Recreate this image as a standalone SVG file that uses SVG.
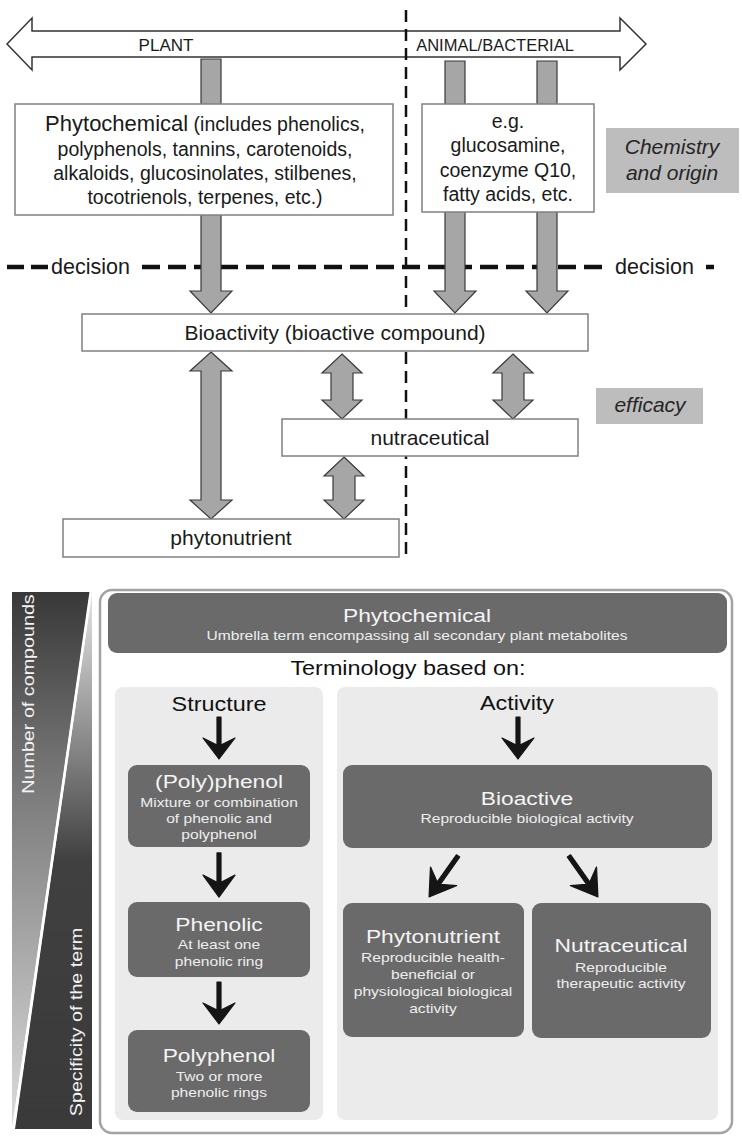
<svg xmlns="http://www.w3.org/2000/svg" width="742" height="1141" viewBox="0 0 742 1141">
<defs>
<style>
text{font-family:"Liberation Sans",Arial,sans-serif;fill:#1a1a1a}
.box{fill:#fff;stroke:#808080;stroke-width:1.5}
.tag{fill:#bdbdbd}
.tagt{font-style:italic;font-size:21px;fill:#262626;text-anchor:middle}
.ga{fill:#a6a6a6;stroke:#3a3a3a;stroke-width:1.2;stroke-linejoin:miter}
.lbl{font-size:21px;text-anchor:middle}
.body{font-size:19.5px;text-anchor:middle}
.dk{fill:#6a6a6a}
.pan{fill:#ebebeb}
.tt{font-size:19px;fill:#f4f4f4;text-anchor:middle}
.st{font-size:13px;fill:#eeeeee;text-anchor:middle}
.hd{font-size:19.5px;fill:#111;text-anchor:middle}
.blk{fill:#151515;stroke:#151515;stroke-width:1.2;stroke-linejoin:round}
.rot{font-size:17px;fill:#f2f2f2;text-anchor:middle}
</style>
<linearGradient id="gUp" gradientUnits="userSpaceOnUse" x1="0" y1="592" x2="0" y2="1128">
<stop offset="0" stop-color="#383838"/>
<stop offset="0.3" stop-color="#707070"/>
<stop offset="1" stop-color="#dcdcdc"/>
</linearGradient>
<linearGradient id="gDn" gradientUnits="userSpaceOnUse" x1="0" y1="592" x2="0" y2="1128">
<stop offset="0" stop-color="#e6e6e6"/>
<stop offset="0.5" stop-color="#404040"/>
<stop offset="1" stop-color="#3a3a3a"/>
</linearGradient>
<path id="bk" d="M-2,0 L2,0 L2,28 L16,21 L0,42 L-16,21 L-2,28 Z"/>
</defs>

<!-- top origin arrow -->
<g id="origin-axis">
<path d="M7,44 L32,18 L32,31 L620,31 L620,18 L646,44 L620,70 L620,57 L32,57 L32,70 Z" fill="#fff" stroke="#333" stroke-width="1.5"/>
<text x="166" y="51" font-size="17" text-anchor="middle">PLANT</text>
<text x="495" y="51" font-size="16.5" text-anchor="middle">ANIMAL/BACTERIAL</text>
</g>

<g id="dividers">
<line x1="406" y1="10" x2="406" y2="557" stroke="#111" stroke-width="2.5" stroke-dasharray="12 7"/>
<line x1="7" y1="267" x2="48" y2="267" stroke="#111" stroke-width="4.5" stroke-dasharray="17 7"/>
<line x1="142" y1="267" x2="604" y2="267" stroke="#111" stroke-width="4.5" stroke-dasharray="18 8"/>
<line x1="706" y1="267" x2="714" y2="267" stroke="#111" stroke-width="4.5"/>
<text x="51" y="274" font-size="21.5">decision</text>
<text x="615" y="274" font-size="21.5">decision</text>
</g>

<g id="connectors">
<path class="ga" d="M201,59 H221 V291 H232 L211,313 L190,291 H201 Z"/>
<path class="ga" d="M445,61 H465 V291 H476 L455,313 L434,291 H445 Z"/>
<path class="ga" d="M537,61 H557 V291 H568 L547,313 L526,291 H537 Z"/>
<path class="ga" d="M211,352 L232,371 H221 V500 H232 L211,519 L190,500 H201 V371 H190 Z"/>
<path class="ga" d="M342,354 L362,373 H353 V400 H362 L342,419 L322,400 H331 V373 H322 Z"/>
<path class="ga" d="M513,354 L533,373 H524 V400 H533 L513,419 L493,400 H502 V373 H493 Z"/>
<path class="ga" d="M344,457 L364,476 H355 V500 H364 L344,519 L324,500 H333 V476 H324 Z"/>
</g>

<g id="phytochemical-box">
<rect class="box" x="15" y="104" width="378" height="111"/>
<text class="body" x="205" y="131"><tspan font-size="22">Phytochemical</tspan> (includes phenolics,</text>
<text class="body" x="205" y="156">polyphenols, tannins, carotenoids,</text>
<text class="body" x="205" y="180">alkaloids, glucosinolates, stilbenes,</text>
<text class="body" x="205" y="204">tocotrienols, terpenes, etc.)</text>
</g>

<g id="animal-box">
<rect class="box" x="422" y="104" width="172" height="108"/>
<text class="body" x="508" y="128">e.g.</text>
<text class="body" x="508" y="152">glucosamine,</text>
<text class="body" x="508" y="177">coenzyme Q10,</text>
<text class="body" x="508" y="201">fatty acids, etc.</text>
</g>

<g id="chemistry-tag">
<rect class="tag" x="606" y="128" width="133" height="65"/>
<text class="tagt" x="672" y="154" font-size="22">Chemistry</text>
<text class="tagt" x="672" y="180">and origin</text>
</g>

<g id="bioactivity-box">
<rect class="box" x="82" y="314" width="506" height="37"/>
<text class="lbl" x="335" y="340">Bioactivity (bioactive compound)</text>
</g>

<g id="efficacy-tag">
<rect class="tag" x="596" y="388" width="107" height="36"/>
<text class="tagt" x="650" y="412">efficacy</text>
</g>

<g id="nutraceutical-box">
<rect class="box" x="282" y="419" width="296" height="37"/>
<text class="lbl" x="430" y="445">nutraceutical</text>
</g>

<g id="phytonutrient-box">
<rect class="box" x="63" y="519" width="336" height="38"/>
<text class="lbl" x="231" y="545">phytonutrient</text>
</g>

<!-- lower panel -->
<g id="scale-bar">
<polygon points="12,592 90,592 12,1129" fill="url(#gUp)"/>
<polygon points="92,592 92,1129 15,1129" fill="url(#gDn)"/>
<line x1="91" y1="590" x2="13" y2="1131" stroke="#fff" stroke-width="2.5"/>
<text class="rot" transform="translate(34,694) rotate(-90) scale(1.16,1)">Number of compounds</text>
<text class="rot" transform="translate(82,1022) rotate(-90) scale(1.16,1)">Specificity of the term</text>
</g>

<g id="terminology-frame">
<rect x="100" y="590" width="632" height="543" rx="12" fill="#fff" stroke="#a3a3a3" stroke-width="2.5"/>
<text class="hd" transform="matrix(1.2 0 0 1 408 675)" font-size="17">Terminology based on:</text>
</g>

<g id="phytochemical-header">
<rect class="dk" x="108" y="593" width="619" height="60" rx="9"/>
<text transform="matrix(1.2 0 0 1 417 0)"><tspan class="tt" x="0" y="622">Phytochemical</tspan><tspan class="st" x="0" y="640">Umbrella term encompassing all secondary plant metabolites</tspan></text>
</g>

<g id="structure-panel">
<rect class="pan" x="115" y="687" width="208" height="433" rx="8"/>
<text class="hd" transform="matrix(1.2 0 0 1 219 711)">Structure</text>
</g>

<g id="activity-panel">
<rect class="pan" x="337" y="687" width="381" height="433" rx="8"/>
<text class="hd" transform="matrix(1.2 0 0 1 517 710)">Activity</text>
</g>

<g id="polyphenol-mix">
<rect class="dk" x="128" y="765" width="182" height="82" rx="9"/>
<text transform="matrix(1.2 0 0 1 219 0)"><tspan class="tt" x="0" y="788">(Poly)phenol</tspan><tspan class="st" x="0" y="807">Mixture or combination</tspan><tspan class="st" x="0" y="823">of phenolic  and</tspan><tspan class="st" x="0" y="839">polyphenol</tspan></text>
</g>

<g id="phenolic">
<rect class="dk" x="128" y="902" width="182" height="75" rx="9"/>
<text transform="matrix(1.2 0 0 1 219 0)"><tspan class="tt" x="0" y="931">Phenolic</tspan><tspan class="st" x="0" y="949">At least one</tspan><tspan class="st" x="0" y="966">phenolic  ring</tspan></text>
</g>

<g id="polyphenol">
<rect class="dk" x="128" y="1030" width="182" height="82" rx="9"/>
<text transform="matrix(1.2 0 0 1 219 0)"><tspan class="tt" x="0" y="1062">Polyphenol</tspan><tspan class="st" x="0" y="1081">Two  or more</tspan><tspan class="st" x="0" y="1097">phenolic  rings</tspan></text>
</g>

<g id="bioactive">
<rect class="dk" x="343" y="765" width="369" height="83" rx="9"/>
<text transform="matrix(1.2 0 0 1 527 0)"><tspan class="tt" x="0" y="805">Bioactive</tspan><tspan class="st" x="0" y="823">Reproducible  biological  activity</tspan></text>
</g>

<g id="phytonutrient">
<rect class="dk" x="343" y="903" width="181" height="134" rx="9"/>
<text transform="matrix(1.2 0 0 1 433 0)"><tspan class="tt" x="0" y="943">Phytonutrient</tspan><tspan class="st" x="0" y="962">Reproducible  health-</tspan><tspan class="st" x="0" y="979">beneficial  or</tspan><tspan class="st" x="0" y="996">physiological  biological</tspan><tspan class="st" x="0" y="1013">activity</tspan></text>
</g>

<g id="nutraceutical">
<rect class="dk" x="532" y="903" width="179" height="135" rx="9"/>
<text transform="matrix(1.2 0 0 1 621 0)"><tspan class="tt" x="0" y="952">Nutraceutical</tspan><tspan class="st" x="0" y="972">Reproducible</tspan><tspan class="st" x="0" y="988">therapeutic  activity</tspan></text>
</g>

<g id="term-arrows">
<use href="#bk" class="blk" transform="translate(219,717)"/>
<use href="#bk" class="blk" transform="translate(219,853) scale(1,1.05)"/>
<use href="#bk" class="blk" transform="translate(219,982)"/>
<use href="#bk" class="blk" transform="translate(518,717)"/>
<use href="#bk" class="blk" transform="translate(458,856) rotate(35.3) scale(1,1.19)"/>
<use href="#bk" class="blk" transform="translate(569,856) rotate(-35.3) scale(1,1.19)"/>
</g>
</svg>
